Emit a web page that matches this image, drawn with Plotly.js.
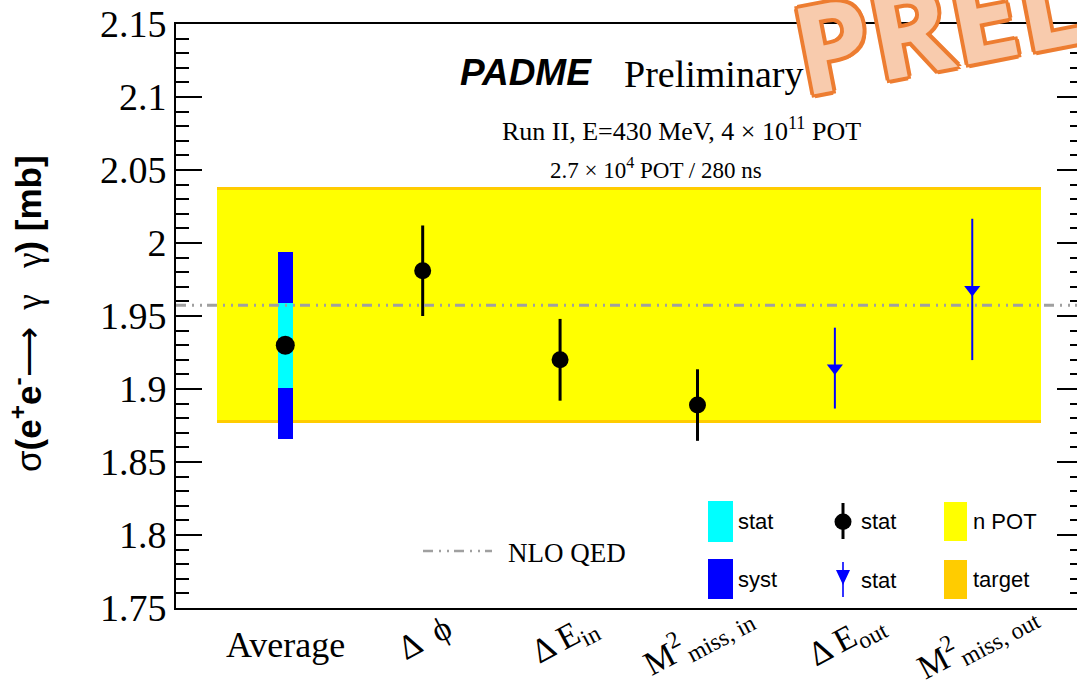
<!DOCTYPE html>
<html>
<head>
<meta charset="utf-8">
<script src="https://cdn.plot.ly/plotly-3.0.1.min.js"></script>
<style>
html,body{margin:0;padding:0;background:#fff;overflow:hidden;}
#chart{width:1085px;height:685px;}
</style>
</head>
<body>
<div id="chart"></div>
<script>
// ---------------- data ----------------
const categories = ['Average', 'Δ  ϕ', 'Δ E<sub>in</sub>', 'M<sup>2</sup><sub>miss, in</sub>', 'Δ E<sub>out</sub>', 'M<sup>2</sup><sub>miss, out</sub>'];
const avgValue = 1.930;
const avgStatErr = 0.029;
const avgTotalErr = 0.064;          // stat (+) syst, outer blue box
const circleCats = [1, 2, 3];       // index into categories
const circleValues = [1.981, 1.920, 1.889];
const circleErrors = [0.031, 0.028, 0.0245];
const triangleCats = [4, 5];
const triangleValues = [1.9143, 1.9682];
const triangleErrors = [0.0277, 0.0484];
const nloQED = 1.9574;
const nPOTBand = [1.879, 2.036];
const targetBand = [1.8765, 2.0383];
const yTickVals = [1.75, 1.8, 1.85, 1.9, 1.95, 2, 2.05, 2.1, 2.15];
const yTickText = ['1.75', '1.8', '1.85', '1.9', '1.95', '2', '2.05', '2.1', '2.15'];

// ---------------- geometry helpers (pixel -> paper) ----------------
const L = 176, T = 24, W = 907, H = 584, B = T + H;
const PX = x => (x - L) / W;
const PY = y => (B - y) / H;

const serif = 'Liberation Serif, Times New Roman, serif';
const sans = 'Liberation Sans, Arial, Helvetica, sans-serif';
const grey = '#a0a0a0';
const dashPat = '10px,6px,2px,6px,2px,5px';

const nCat = categories.length;
const bandCenter = (nCat - 1) / 2;

const traces = [
  // target band (orange) then n POT band (yellow)
  {type: 'bar', x: [bandCenter], y: [targetBand[1] - targetBand[0]], base: [targetBand[0]],
   width: [nCat], marker: {color: '#ffcc00', line: {width: 0}}, hoverinfo: 'skip', showlegend: false},
  {type: 'bar', x: [bandCenter], y: [nPOTBand[1] - nPOTBand[0]], base: [nPOTBand[0]],
   width: [nCat], marker: {color: '#ffff00', line: {width: 0}}, hoverinfo: 'skip', showlegend: false},
  // average: syst (blue) and stat (cyan) boxes
  {type: 'bar', x: [0], y: [2 * avgTotalErr], base: [avgValue - avgTotalErr], width: [0.105],
   marker: {color: '#0000ff', line: {width: 0}}, hoverinfo: 'skip', showlegend: false},
  {type: 'bar', x: [0], y: [2 * avgStatErr], base: [avgValue - avgStatErr], width: [0.105],
   marker: {color: '#00ffff', line: {width: 0}}, hoverinfo: 'skip', showlegend: false},
  // average point
  {type: 'scatter', mode: 'markers', x: [0], y: [avgValue],
   marker: {color: '#000', size: 19}, showlegend: false, hoverinfo: 'skip'},
  // circle points
  {type: 'scatter', mode: 'markers', x: circleCats, y: circleValues,
   error_y: {type: 'data', array: circleErrors, visible: true, color: '#000', thickness: 3, width: 0},
   marker: {color: '#000', size: 17}, showlegend: false, hoverinfo: 'skip'},
  // triangle points
  {type: 'scatter', mode: 'markers', x: triangleCats, y: triangleValues,
   error_y: {type: 'data', array: triangleErrors, visible: true, color: '#0000ff', thickness: 2, width: 0},
   marker: {color: '#0000ff', symbol: 'triangle-down', size: 14}, showlegend: false, hoverinfo: 'skip'}
];

const shapes = [
  // NLO QED line across the full frame
  {type: 'line', xref: 'paper', yref: 'y', x0: 0, x1: 1, y0: nloQED, y1: nloQED,
   line: {color: grey, width: 3, dash: dashPat}, layer: 'above'},
  // legend samples
  {type: 'line', xref: 'paper', yref: 'paper', x0: PX(423), x1: PX(492), y0: PY(551), y1: PY(551),
   line: {color: grey, width: 2.5, dash: dashPat}},
  {type: 'rect', xref: 'paper', yref: 'paper', x0: PX(708), x1: PX(733), y0: PY(501), y1: PY(542),
   fillcolor: '#00ffff', line: {width: 0}},
  {type: 'rect', xref: 'paper', yref: 'paper', x0: PX(708), x1: PX(733), y0: PY(559), y1: PY(599),
   fillcolor: '#0000ff', line: {width: 0}},
  {type: 'rect', xref: 'paper', yref: 'paper', x0: PX(944), x1: PX(967), y0: PY(502), y1: PY(541),
   fillcolor: '#ffff00', line: {width: 0}},
  {type: 'rect', xref: 'paper', yref: 'paper', x0: PX(944), x1: PX(967), y0: PY(560), y1: PY(599),
   fillcolor: '#ffcc00', line: {width: 0}},
  {type: 'line', xref: 'paper', yref: 'paper', x0: PX(843), x1: PX(843), y0: PY(503), y1: PY(539),
   line: {color: '#000', width: 3}},
  {type: 'circle', xref: 'paper', yref: 'paper', x0: PX(834.5), x1: PX(851.5), y0: PY(513.5), y1: PY(530),
   fillcolor: '#000', line: {width: 0}},
  {type: 'line', xref: 'paper', yref: 'paper', x0: PX(843), x1: PX(843), y0: PY(562), y1: PY(597),
   line: {color: '#0000ff', width: 1.6}},
  {type: 'path', xref: 'paper', yref: 'paper',
   path: `M ${PX(836)} ${PY(570)} L ${PX(850)} ${PY(570)} L ${PX(843)} ${PY(585)} Z`,
   fillcolor: '#0000ff', line: {width: 0}}
];

const annotations = [];
// x category labels (label centre positions in pixels, below the axis)
const labelCentreY = [645, 637, 640, 638, 640, 639];
const labelShiftX = [0, 2, 5, 0, 12, 4];
categories.forEach((c, i) => {
  annotations.push({xref: 'x', yref: 'paper', x: i, y: PY(labelCentreY[i]), xanchor: 'center', yanchor: 'middle',
    text: c, textangle: i === 0 ? 0 : -28, xshift: labelShiftX[i], showarrow: false,
    font: {family: serif, size: i === 0 ? 36 : 34, color: '#000'}});
});
// y axis title
const nb = (s, fam) => `<span style="font-weight:normal;font-family:${fam}">${s}</span>`;
annotations.push({xref: 'paper', yref: 'paper', x: PX(26), y: PY(314), xanchor: 'center', yanchor: 'middle',
  textangle: -90, showarrow: false,
  text: nb('σ', 'Liberation Sans') + '(e<sup>+</sup>e<sup>-</sup>' +
        nb('⟶\u00a0\u00a0γ\u00a0\u00a0\u00a0γ', 'Liberation Serif') + ') [mb]',
  font: {family: sans, size: 35, color: '#000', weight: 700}});
// header texts
annotations.push({xref: 'paper', yref: 'paper', x: PX(526), y: PY(72), xanchor: 'center', yanchor: 'middle',
  text: 'PADME', showarrow: false, font: {family: sans, size: 37, color: '#000', weight: 700, style: 'italic'}});
annotations.push({xref: 'paper', yref: 'paper', x: PX(713), y: PY(74), xanchor: 'center', yanchor: 'middle',
  text: 'Preliminary', showarrow: false, font: {family: serif, size: 38, color: '#000'}});
annotations.push({xref: 'paper', yref: 'paper', x: PX(681), y: PY(130), xanchor: 'center', yanchor: 'middle',
  text: 'Run II, E=430 MeV, 4 × 10<sup>11</sup> POT', showarrow: false, font: {family: serif, size: 26, color: '#000'}});
annotations.push({xref: 'paper', yref: 'paper', x: PX(656), y: PY(168), xanchor: 'center', yanchor: 'middle',
  text: '2.7 × 10<sup>4</sup> POT / 280 ns', showarrow: false, font: {family: serif, size: 23, color: '#000'}});
// legend texts
const legendTexts = [
  ['NLO QED', 506, 553, serif, 27],
  ['stat', 736, 521, sans, 22],
  ['syst', 736, 579, sans, 22],
  ['stat', 859, 521, sans, 22],
  ['stat', 859, 580, sans, 22],
  ['n POT', 971, 521, sans, 22],
  ['target', 971, 579, sans, 22]
];
legendTexts.forEach(t => annotations.push({xref: 'paper', yref: 'paper', x: PX(t[1]), y: PY(t[2]),
  xanchor: 'left', yanchor: 'middle', text: t[0], showarrow: false,
  font: {family: t[3], size: t[4], color: '#000'}}));
// PRELIMINARY stamp
const o = '#ed7d31';
annotations.push({xref: 'paper', yref: 'paper', x: PX(776), y: PY(134), xanchor: 'left', yanchor: 'bottom',
  text: 'PRELIMINARY', textangle: -11, showarrow: false,
  font: {family: 'Open Sans, Noto Sans, sans-serif', size: 122, color: '#f8cbad', weight: 700,
    shadow: `4px 0 0 ${o}, -4px 0 0 ${o}, 0 4px 0 ${o}, 0 -4px 0 ${o}, 3px 3px 0 ${o}, -3px -3px 0 ${o}, 3px -3px 0 ${o}, -3px 3px 0 ${o}`}});

const layout = {
  width: 1085, height: 685,
  margin: {l: L, r: 1085 - L - W, t: T, b: 685 - T - H, pad: 0},
  paper_bgcolor: '#fff', plot_bgcolor: '#fff',
  showlegend: false, barmode: 'overlay', bargap: 0,
  xaxis: {range: [-0.7955, 5.806], showticklabels: false, ticks: '', showgrid: false, zeroline: false,
    showline: true, linecolor: '#000', linewidth: 2, mirror: true, fixedrange: true},
  yaxis: {range: [1.75, 2.15], tickvals: yTickVals, ticktext: yTickText, ticks: 'inside', ticklen: 26,
    tickwidth: 2, tickcolor: '#000', showgrid: false, zeroline: false, showline: true, linecolor: '#000',
    linewidth: 2, mirror: 'ticks', ticklabelstandoff: 0,
    tickfont: {family: serif, size: 38, color: '#000'},
    minor: {dtick: 0.01, ticks: 'inside', ticklen: 13, tickwidth: 2, tickcolor: '#000', showgrid: false},
    fixedrange: true},
  shapes: shapes,
  annotations: annotations
};

Plotly.newPlot('chart', traces, layout, {displayModeBar: false, staticPlot: true});
</script>
</body>
</html>
